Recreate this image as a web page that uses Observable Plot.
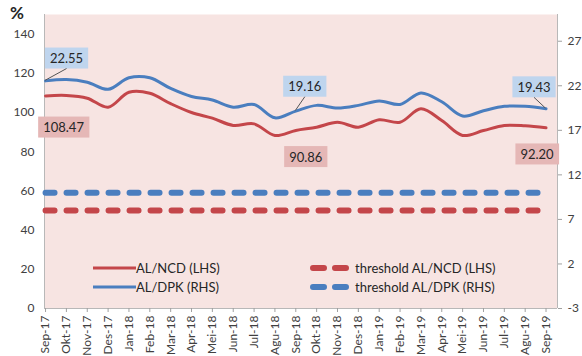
<!DOCTYPE html>
<html>
<head>
<meta charset="utf-8">
<script src="https://cdn.jsdelivr.net/npm/d3@7"></script>
<script src="https://cdn.jsdelivr.net/npm/@observablehq/plot@0.6"></script>
<style>
  html, body { margin: 0; padding: 0; background: #ffffff; }
  #wrap { position: relative; width: 582px; height: 356px; overflow: hidden; font-family: Lato, sans-serif; }
  .lg { position: absolute; display: flex; align-items: center; height: 16px; font-size: 13px; color: #262626; white-space: nowrap; }
  .lg svg { display: block; }
</style>
</head>
<body>
<div id="wrap">
  <div id="chart"></div>
  <div style="position:absolute;left:10px;top:2px;font-weight:bold;font-size:17px;color:#262626;">%</div>
  <div class="lg" style="left:93px;top:260px;"><svg width="43" height="16"><line x1="0" x2="43" y1="8" y2="8" stroke="#c4464a" stroke-width="3"/></svg><span>AL/NCD (LHS)</span></div>
  <div class="lg" style="left:93px;top:279px;"><svg width="43" height="16"><line x1="0" x2="43" y1="8" y2="8" stroke="#4a7ebf" stroke-width="3"/></svg><span>AL/DPK (RHS)</span></div>
  <div class="lg" style="left:310px;top:260px;"><svg width="45" height="16"><line x1="3" x2="36" y1="8" y2="8" stroke="#c4464a" stroke-width="6" stroke-linecap="round" stroke-dasharray="11,11"/></svg><span>threshold AL/NCD (LHS)</span></div>
  <div class="lg" style="left:310px;top:279px;"><svg width="45" height="16"><line x1="3" x2="36" y1="8" y2="8" stroke="#4a7ebf" stroke-width="6" stroke-linecap="round" stroke-dasharray="11,11"/></svg><span>threshold AL/DPK (RHS)</span></div>
</div>
<script>
// ---- data ----
const months = ["Sep-17","Okt-17","Nov-17","Des-17","Jan-18","Feb-18","Mar-18","Apr-18","Mei-18","Jun-18","Jul-18","Agu-18","Sep-18","Okt-18","Nov-18","Des-18","Jan-19","Feb-19","Mar-19","Apr-19","Mei-19","Jun-19","Jul-19","Agu-19","Sep-19"];
const alNcd = [108.47,108.7,107.3,102.7,110.3,109.8,104.5,100.0,97.1,93.4,94.2,88.3,90.86,92.5,95.0,92.5,96.3,95.0,101.9,95.9,88.3,90.8,93.4,93.2,92.20];
const alDpk = [22.55,22.7,22.4,21.6,22.9,22.9,21.7,20.8,20.4,19.6,19.9,18.4,19.16,19.8,19.5,19.8,20.3,19.9,21.2,20.2,18.6,19.2,19.7,19.7,19.43];
const thresholdNcd = 50;
const thresholdDpk = 10;
const leftTicks = [0,20,40,60,80,100,120,140];
const rightTicks = [-3,2,7,12,17,22,27];
const leftDomain = [0,150];
const rightDomain = [-3,30];
const labelIdx = [0,12,24];

// ---- helpers ----
const toLeft = v => (v - rightDomain[0]) / (rightDomain[1] - rightDomain[0]) * (leftDomain[1] - leftDomain[0]) + leftDomain[0];
const fromLeft = v => (v - leftDomain[0]) / (leftDomain[1] - leftDomain[0]) * (rightDomain[1] - rightDomain[0]) + rightDomain[0];
const rows = months.map((m, i) => ({i, m, ncd: alNcd[i], dpk: alDpk[i]}));
const last = months.length - 1;

const RED = "#c4464a", BLUE = "#4a7ebf";

const annots = [
  {key: "dpk", idx: labelIdx[0], dx: 21, dy: -22, box: "#bfd5ee", leader: true},
  {key: "ncd", idx: labelIdx[0], dx: 18, dy: 32, box: "#e5b7b6", leader: false},
  {key: "dpk", idx: labelIdx[1], dx: 9, dy: -24, box: "#bfd5ee", leader: true},
  {key: "ncd", idx: labelIdx[1], dx: 10, dy: 27, box: "#e5b7b6", leader: false},
  {key: "dpk", idx: labelIdx[2], dx: -12, dy: -21, box: "#bfd5ee", leader: true},
  {key: "ncd", idx: labelIdx[2], dx: -9, dy: 27, box: "#e5b7b6", leader: false}
];
const valOf = (key, d) => key === "dpk" ? toLeft(d.dpk) : d.ncd;
const rawOf = (key, d) => key === "dpk" ? d.dpk : d.ncd;

const plot = Plot.plot({
  width: 582,
  height: 356,
  marginLeft: 44,
  marginRight: 25,
  marginTop: 14,
  marginBottom: 48,
  x: {domain: [-0.05, last + 0.55]},
  y: {domain: leftDomain},
  style: {fontFamily: "Lato, sans-serif", fontSize: "12px", color: "#404040", background: "transparent"},
  marks: [
    Plot.frame({fill: "#f7e4e2", stroke: null}),
    Plot.ruleX([-0.05, last + 0.55], {stroke: "#b8b8b8", strokeWidth: 1}),
    Plot.ruleY([leftDomain[0]], {stroke: "#b8b8b8", strokeWidth: 1}),
    Plot.axisY({ticks: leftTicks, tickSize: 0, tickPadding: 10, label: null, fontSize: 12, fill: "#404040"}),
    Plot.axisY({anchor: "right", ticks: rightTicks.map(toLeft), tickFormat: d => String(Math.round(fromLeft(d))), tickSize: 4, tickPadding: 6, label: null, stroke: "#a0a0a0", fontSize: 12, fill: "#404040"}),
    Plot.axisX({ticks: d3.range(months.length), tickFormat: i => months[i], tickRotate: -90, tickSize: 4, tickPadding: 3, label: null, stroke: "#a0a0a0", fontSize: 12, fill: "#404040"}),
    Plot.line(rows, {x: "i", y: () => toLeft(thresholdDpk), stroke: BLUE, strokeWidth: 6, strokeLinecap: "round", strokeDasharray: "9,12"}),
    Plot.line(rows, {x: "i", y: () => thresholdNcd, stroke: RED, strokeWidth: 6, strokeLinecap: "round", strokeDasharray: "9,12"}),
    Plot.line(rows, {x: "i", y: "ncd", stroke: RED, strokeWidth: 3, curve: "catmull-rom"}),
    Plot.line(rows, {x: "i", y: d => toLeft(d.dpk), stroke: BLUE, strokeWidth: 3, curve: "catmull-rom"}),
    ...annots.map((a) => Plot.text([rows[a.idx]], {
      x: "i", y: d => valOf(a.key, d), text: d => rawOf(a.key, d).toFixed(2),
      dx: a.dx, dy: a.dy, fontSize: 13, fill: "#262626", textAnchor: "middle"
    }))
  ]
});

document.getElementById("chart").append(plot);

// ---- boxes behind data labels and leader lines, via the plot's scales ----
const sx = plot.scale("x"), sy = plot.scale("y");
const fx = sx.apply ? v => sx.apply(v) : d3.scaleLinear(sx.domain, sx.range);
const fy = sy.apply ? v => sy.apply(v) : d3.scaleLinear(sy.domain, sy.range);
const NS = "http://www.w3.org/2000/svg";
const textGroups = Array.from(plot.querySelectorAll('g[aria-label="text"]'));
annots.forEach((a, k) => {
  const g = textGroups[k];
  if (!g) return;
  const t = g.querySelector("text");
  if (!t) return;
  const bb = t.getBBox();
  const r = document.createElementNS(NS, "rect");
  r.setAttribute("x", bb.x - 5);
  r.setAttribute("y", bb.y - 2.5);
  r.setAttribute("width", bb.width + 10);
  r.setAttribute("height", bb.height + 5);
  r.setAttribute("fill", a.box);
  if (t.getAttribute("transform")) r.setAttribute("transform", t.getAttribute("transform"));
  t.parentNode.insertBefore(r, t);
  if (a.leader) {
    const m = t.getCTM();
    const p = new DOMPoint(bb.x + bb.width / 2, bb.y + bb.height + 2.5).matrixTransform(m);
    const d = rows[a.idx];
    const ln = document.createElementNS(NS, "line");
    ln.setAttribute("x1", p.x); ln.setAttribute("y1", p.y);
    ln.setAttribute("x2", fx(d.i)); ln.setAttribute("y2", fy(valOf(a.key, d)));
    ln.setAttribute("stroke", "#555"); ln.setAttribute("stroke-width", 1);
    plot.append(ln);
  }
});
</script>
</body>
</html>
